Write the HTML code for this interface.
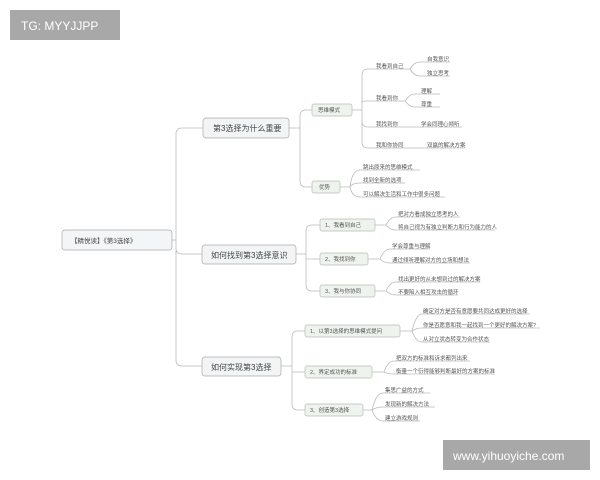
<!DOCTYPE html>
<html><head><meta charset="utf-8"><style>
html,body{margin:0;padding:0;background:#fff;width:600px;height:480px;overflow:hidden}
svg text{font-family:"Liberation Sans","Noto Sans CJK SC",sans-serif;fill:#555}
.l{font-size:5.5px}
.m{font-size:8px;fill:#444}
.s{font-size:6.5px;fill:#444}
</style></head><body>
<svg width="600" height="480" viewBox="0 0 600 480" xmlns="http://www.w3.org/2000/svg">
<rect x="10" y="10" width="110" height="30" fill="#a8a8a8"/>
<text x="21" y="30" style="font-size:12px;fill:#fff">TG: MYYJJPP</text>
<rect x="443" y="440" width="147" height="30" fill="#a8a8a8"/>
<text x="453" y="460" style="font-size:12px;fill:#fff">www.yihuoyiche.com</text>

<g fill="none" stroke="#bbb" stroke-width="0.8">
<!-- root trunk -->
<path d="M172 240 H176 M176 240 V134 Q176 128 182 128 H203 M176 240 V360 Q176 366 182 366 H202 M176 240 V248 Q176 254 182 254 H202"/>
<!-- main1 -->
<path d="M289 128 H300 M300 128 V116 Q300 110 306 110 H312 M300 128 V181 Q300 187 306 187 H312"/>
<path d="M352 110 H362 M362 110 V75 Q362 69 368 69 H410 M362 110 V103 Q362 101 366 101 H405 M362 110 V121 Q362 127 368 127 H410 M362 110 V142 Q362 148 368 148 H415"/>
<path d="M410 69 Q414 62 420 62 H450 M410 69 Q414 76 420 76 H450"/>
<path d="M405 101 Q410 94 414 94 H440 M405 101 Q410 107 414 107 H440"/>
<path d="M410 127 H462 M415 148 H465"/>
<path d="M340 187 H350 Q352 170 360 170 H420 M350 187 Q352 183 360 183 H405 M350 187 Q352 197 360 197 H445"/>
<!-- main2 -->
<path d="M296 254 H306 M306 254 V231 Q306 225 312 225 H320 M306 254 V259 H320 M306 254 V285 Q306 291 312 291 H320"/>
<path d="M375 225 H386 Q390 217 396 217 H460 M386 225 Q390 230 396 230 H495"/>
<path d="M368 259 H380 Q384 249 390 249 H430 M380 259 Q384 263 390 263 H470"/>
<path d="M375 291 H386 Q390 282 396 282 H480 M386 291 Q390 295 396 295 H458"/>
<!-- main3 -->
<path d="M281 366 H292 M292 366 V337 Q292 331 298 331 H305 M292 366 V372 H305 M292 366 V404 Q292 410 298 410 H305"/>
<path d="M400 331 H412 Q416 314 422 314 H530 M412 331 Q416 328 422 328 H540 M412 331 Q416 342 422 342 H490"/>
<path d="M372 372 H384 Q388 361 394 361 H470 M384 372 Q388 374 394 374 H495"/>
<path d="M363 410 H372 Q376 393 383 393 H430 M372 410 Q376 407 383 407 H435 M372 410 Q376 421 383 421 H420"/>
</g>

<g fill="#eef3ee" stroke="#b5bdb5" stroke-width="0.7">
<rect x="62" y="230" width="110" height="20" rx="3" fill="#f4f5f6" stroke="#aaa"/>
<rect x="203" y="118" width="86" height="20" rx="3" fill="#f2f4f6" stroke="#aaa"/>
<rect x="202" y="245" width="94" height="19" rx="3" fill="#f2f4f6" stroke="#aaa"/>
<rect x="202" y="357" width="79" height="19" rx="3" fill="#f2f4f6" stroke="#aaa"/>
<rect x="312" y="104" width="40" height="12" rx="2"/>
<rect x="312" y="181" width="28" height="12" rx="2"/>
<rect x="320" y="219" width="55" height="12" rx="2"/>
<rect x="320" y="253" width="48" height="12" rx="2"/>
<rect x="320" y="285" width="55" height="12" rx="2"/>
<rect x="305" y="325" width="95" height="12" rx="2"/>
<rect x="305" y="366" width="67" height="12" rx="2"/>
<rect x="305" y="404" width="58" height="12" rx="2"/>
</g>

<text class="s" x="71" y="243">【精悦读】《第3选择》</text>
<text class="m" x="213" y="131">第3选择为什么重要</text>
<text class="m" x="211" y="258">如何找到第3选择意识</text>
<text class="m" x="211" y="370">如何实现第3选择</text>
<text class="l" x="318" y="112">思维模式</text>
<text class="l" x="319" y="189">优势</text>
<text class="l" x="325" y="227">1、我看到自己</text>
<text class="l" x="325" y="261">2、我找到你</text>
<text class="l" x="325" y="293">3、我与你协同</text>
<text class="l" x="310" y="333">1、以第3选择的思维模式提问</text>
<text class="l" x="310" y="374">2、界定成功的标准</text>
<text class="l" x="310" y="412">3、创造第3选择</text>

<text class="l" x="376" y="68">我看到自己</text>
<text class="l" x="427" y="61">自我意识</text>
<text class="l" x="427" y="75">独立思考</text>
<text class="l" x="376" y="100">我看到你</text>
<text class="l" x="421" y="93">理解</text>
<text class="l" x="421" y="106">尊重</text>
<text class="l" x="376" y="126">我找到你</text>
<text class="l" x="421" y="126">学会同理心倾听</text>
<text class="l" x="376" y="147">我和你协同</text>
<text class="l" x="427" y="147">双赢的解决方案</text>
<text class="l" x="363" y="169">跳出原来的思维模式</text>
<text class="l" x="363" y="182">找到全新的选项</text>
<text class="l" x="363" y="196">可以解决生活和工作中很多问题</text>

<text class="l" x="398" y="216">把对方看成独立思考的人</text>
<text class="l" x="398" y="229">将自己视为有独立判断力和行为能力的人</text>
<text class="l" x="392" y="248">学会尊重与理解</text>
<text class="l" x="392" y="262">通过倾听理解对方的立场和想法</text>
<text class="l" x="398" y="281">找出更好的从未想到过的解决方案</text>
<text class="l" x="398" y="294">不要陷入相互攻击的循环</text>

<text class="l" x="423" y="313">确定对方是否有意愿要共同达成更好的选择</text>
<text class="l" x="423" y="327">你是否愿意和我一起找到一个更好的解决方案?</text>
<text class="l" x="423" y="341">从对立状态转变为合作状态</text>
<text class="l" x="396" y="360">把双方的标准和诉求都列出来</text>
<text class="l" x="396" y="373">衡量一个衍得能够判断最好的方案的标准</text>
<text class="l" x="385" y="392">集思广益的方式</text>
<text class="l" x="385" y="406">发现新的解决方法</text>
<text class="l" x="385" y="420">建立游戏规则</text>
</svg>
</body></html>
